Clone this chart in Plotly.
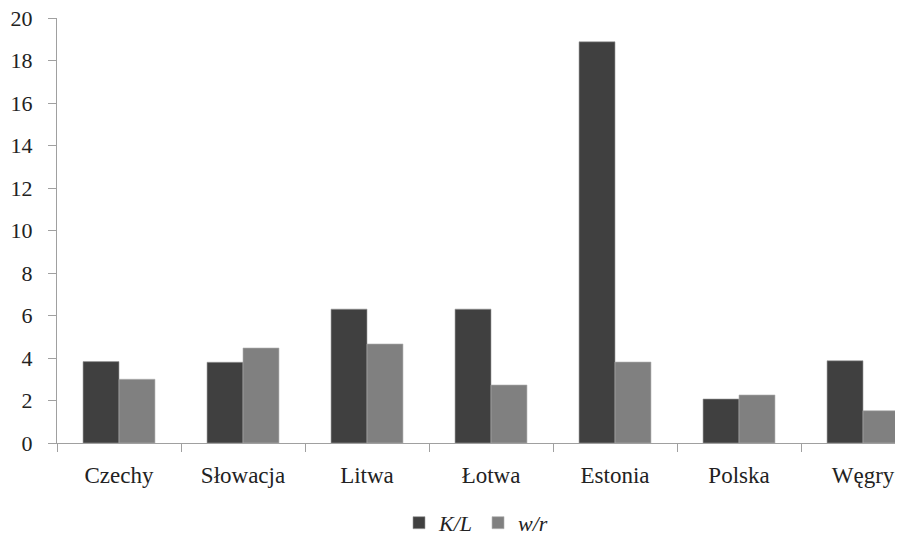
import plotly.graph_objects as go

categories = ["Czechy", "Słowacja", "Litwa", "Łotwa", "Estonia", "Polska", "Węgry"]
kl_values = [3.83, 3.8, 6.3, 6.3, 18.88, 2.07, 3.87]
wr_values = [3.0, 4.47, 4.66, 2.73, 3.81, 2.26, 1.52]
series_names = ["<i>K/L</i>", "<i>w/r</i>"]
y_ticks = list(range(0, 21, 2))

FONT = "Liberation Serif"
TXT = "#222222"

fig = go.Figure()
fig.add_trace(go.Bar(x=categories, y=kl_values, name=series_names[0],
                     marker=dict(color="#404040", line=dict(color="#9a9a9a", width=0.6))))
fig.add_trace(go.Bar(x=categories, y=wr_values, name=series_names[1],
                     marker=dict(color="#808080", line=dict(color="#b0b0b0", width=0.6))))

# page body has an 8px margin (and the visible width is the body width),
# so the figure is sized/offset to compensate
fig.update_layout(
    width=887, height=533,
    margin=dict(l=49, r=0, t=10, b=98, autoexpand=False),
    paper_bgcolor="white", plot_bgcolor="white",
    barmode="group", bargap=0.42, bargroupgap=0,
    font=dict(family=FONT, size=23, color=TXT),
    showlegend=True,
    legend=dict(orientation="h", x=0.5, xanchor="center", y=-0.188, yanchor="middle",
                font=dict(family=FONT, size=22, color=TXT),
                itemwidth=30, tracegroupgap=0),
)
fig.update_xaxes(
    type="category", range=[-0.5, 6.258], automargin=False,
    showline=True, linecolor="#a0a0a0", linewidth=1,
    ticks="outside", tickson="boundaries", ticklen=8, tickcolor="#a0a0a0",
    showgrid=False, zeroline=False,
    tickfont=dict(family=FONT, size=23, color=TXT),
    ticklabelstandoff=11,
)
fig.update_yaxes(
    range=[0, 20], tickvals=y_ticks, automargin=False,
    showline=True, linecolor="#a0a0a0", linewidth=1,
    ticks="outside", ticklen=8, tickcolor="#a0a0a0",
    showgrid=False, zeroline=False, ticklabeloverflow="allow",
    tickfont=dict(family=FONT, size=22, color=TXT),
    ticklabelstandoff=11,
)

fig.write_html("out.html")
